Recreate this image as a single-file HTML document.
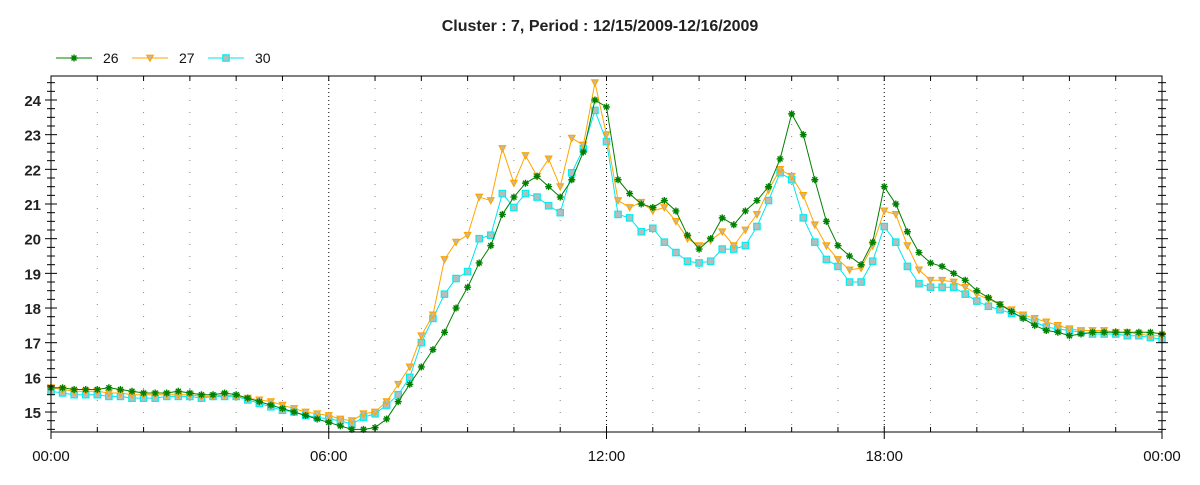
<!DOCTYPE html>
<html><head><meta charset="utf-8"><style>
body{margin:0;background:#fff;}
svg text{font-family:"Liberation Sans",Arial,sans-serif;}
</style></head><body>
<svg id="chart" width="1200" height="480" xmlns="http://www.w3.org/2000/svg">
<rect width="1200" height="480" fill="#fff"/>
<text x="600" y="31" text-anchor="middle" font-size="16" font-weight="bold" fill="#222">Cluster : 7, Period : 12/15/2009-12/16/2009</text>
<g id="legend"></g>
<g id="grid"></g>
<g id="series"></g>
<g id="axes"></g>
</svg>
<script>
const hours = [];
for (let i = 0; i <= 96; i++) hours.push(i / 4);
const seriesNames = ["26", "27", "30"];
const s26 = [15.7,15.7,15.65,15.65,15.65,15.7,15.65,15.6,15.55,15.55,15.55,15.6,15.55,15.5,15.5,15.55,15.5,15.4,15.3,15.2,15.1,15.0,14.9,14.8,
 14.7,14.6,14.5,14.5,14.55,14.8,15.3,15.8,16.3,16.8,17.3,18.0,18.6,19.3,19.8,20.7,21.2,21.6,21.8,21.5,21.2,21.7,22.5,24.0,
 23.8,21.7,21.3,21.0,20.9,21.1,20.8,20.1,19.7,20.0,20.6,20.4,20.8,21.1,21.5,22.3,23.6,23.0,21.7,20.5,19.8,19.5,19.25,19.9,
 21.5,21.0,20.2,19.6,19.3,19.2,19.0,18.8,18.5,18.3,18.1,17.9,17.7,17.5,17.35,17.3,17.2,17.25,17.3,17.3,17.3,17.3,17.3,17.3,17.25];
const s27 = [15.7,15.65,15.6,15.6,15.6,15.55,15.55,15.5,15.5,15.5,15.5,15.5,15.5,15.45,15.45,15.5,15.45,15.4,15.35,15.3,15.2,15.1,15.0,14.95,
 14.9,14.8,14.75,14.95,15.0,15.3,15.8,16.3,17.2,17.8,19.4,19.9,20.1,21.2,21.1,22.6,21.6,22.4,21.8,22.3,21.5,22.9,22.7,24.5,
 23.0,21.1,20.9,21.05,20.8,20.9,20.5,20.0,19.8,19.95,20.2,19.8,20.25,20.7,21.4,22.0,21.8,21.25,20.4,19.8,19.4,19.1,19.15,19.8,
 20.8,20.7,19.8,19.1,18.8,18.8,18.75,18.6,18.4,18.25,18.1,17.95,17.8,17.7,17.6,17.5,17.4,17.35,17.35,17.35,17.3,17.3,17.25,17.2,17.2];
const s30 = [15.6,15.55,15.5,15.5,15.5,15.45,15.45,15.4,15.4,15.4,15.45,15.45,15.45,15.4,15.45,15.45,15.45,15.35,15.25,15.15,15.05,15.0,14.9,14.85,
 14.8,14.75,14.65,14.85,14.95,15.2,15.5,16.0,17.0,17.7,18.4,18.85,19.05,20.0,20.1,21.3,20.9,21.3,21.2,20.95,20.75,21.9,22.6,23.7,
 22.8,20.7,20.6,20.2,20.3,19.9,19.6,19.35,19.3,19.35,19.7,19.7,19.8,20.35,21.1,21.9,21.7,20.6,19.9,19.4,19.2,18.75,18.75,19.35,
 20.35,19.9,19.2,18.7,18.6,18.6,18.6,18.4,18.2,18.05,17.95,17.85,17.75,17.6,17.45,17.4,17.35,17.3,17.25,17.25,17.25,17.2,17.2,17.15,17.1];
const yTicks = [15,16,17,18,19,20,21,22,23,24];
const xTickLabels = ["00:00","06:00","12:00","18:00","00:00"];

const NS = "http://www.w3.org/2000/svg";
const L = 51, R = 1162, T = 76, B = 432;
const xs = h => L + (R - L) * h / 24;
const ys = v => 100 + (24 - v) * 34.67;
function mk(tag, attrs, parent) {
  const e = document.createElementNS(NS, tag);
  for (const k in attrs) e.setAttribute(k, attrs[k]);
  parent.appendChild(e);
  return e;
}
const grid = document.getElementById("grid");
const axes = document.getElementById("axes");
const ser = document.getElementById("series");
const leg = document.getElementById("legend");

for (let h = 1; h < 24; h++) {
  const major = h % 6 === 0;
  const g = mk("line", {x1: xs(h), x2: xs(h), y1: T, y2: B, stroke: major ? "#000" : "#888", "stroke-width": 1, "stroke-dasharray": major ? "1,3" : "1,11"}, grid);
  
  
}
const frame = mk("rect", {x: L, y: T, width: R - L, height: B - T, fill: "none", stroke: "#000", "stroke-width": 1}, axes);


for (let v = 14.5; v <= 24.51; v += 0.25) {
  const major = Math.abs(v - Math.round(v)) < 0.01;
  const w = major ? 6 : 4;
  const y = ys(v);
  if (y < T || y > B) continue;
  const t1 = mk("line", {x1: L - w, x2: L + w, y1: y, y2: y, stroke: "#000", "stroke-width": 1}, axes);
  
  
  const t2 = mk("line", {x1: R - w, x2: R + w, y1: y, y2: y, stroke: "#000", "stroke-width": 1}, axes);
  
  
}
yTicks.forEach(v => {
  const t = mk("text", {x: L - 10, y: ys(v) + 6, "text-anchor": "end", "font-size": 15, "font-weight": "bold", fill: "#222"}, axes);
  t.textContent = v;
  
  
});
for (let h = 0; h <= 24; h++) {
  const major = h % 6 === 0;
  const t = mk("line", {x1: xs(h), x2: xs(h), y1: major ? B - 6 : B - 5, y2: major ? B + 7 : B, stroke: "#000", "stroke-width": 1}, axes);
  
  
  const t2 = mk("line", {x1: xs(h), x2: xs(h), y1: T, y2: T + 5, stroke: "#000", "stroke-width": 1}, axes);
  
  
}
xTickLabels.forEach((lab, i) => {
  const t = mk("text", {x: xs(i * 6), y: 461, "text-anchor": "middle", "font-size": 15, fill: "#111"}, axes);
  t.textContent = lab;
  
  
});

function marker(kind, x, y, parent) {
  let m;
  if (kind === 0) {
    m = mk("path", {d: `M${x-3.5},${y}H${x+3.5}M${x},${y-3.5}V${y+3.5}M${x-2.5},${y-2.5}L${x+2.5},${y+2.5}M${x-2.5},${y+2.5}L${x+2.5},${y-2.5}`, stroke: "#008000", "stroke-width": 1.4, fill: "none"}, parent);
  } else if (kind === 1) {
    m = mk("path", {d: `M${x-3.2},${y-2.8}L${x+3.2},${y-2.8}L${x},${y+3.2}Z`, fill: "#bbb", stroke: "#FFA500", "stroke-width": 1.2}, parent);
  } else {
    m = mk("rect", {x: x - 3.2, y: y - 3.2, width: 6.4, height: 6.4, fill: "#bbb", stroke: "#00F0F0", "stroke-width": 1.2}, parent);
  }
  return m;
}
const colors = ["#008000", "#FFA500", "#00E5EE"];
const data = [s26, s27, s30];
[2, 1, 0].forEach(k => {
  const g = mk("g", {}, ser);
  
  
  const pts = data[k].map((v, i) => xs(hours[i]) + "," + ys(v)).join(" ");
  const pl = mk("polyline", {points: pts, fill: "none", stroke: colors[k], "stroke-width": 1}, g);
  
  
  data[k].forEach((v, i) => {
    const m = marker(k, xs(hours[i]), ys(v), g);
    
    
  });
});
const legX = [56, 132, 208];
seriesNames.forEach((n, k) => {
  const g = mk("g", {}, leg);
  
  
  const ln = mk("line", {x1: legX[k], x2: legX[k] + 36, y1: 58, y2: 58, stroke: colors[k], "stroke-width": 1}, g);
  
  
  const m = marker(k, legX[k] + 18, 58, g);
  
  
  const t = mk("text", {x: legX[k] + 47, y: 63, "font-size": 14, fill: "#111"}, g);
  t.textContent = n;
  
  
});
</script>
</body></html>
